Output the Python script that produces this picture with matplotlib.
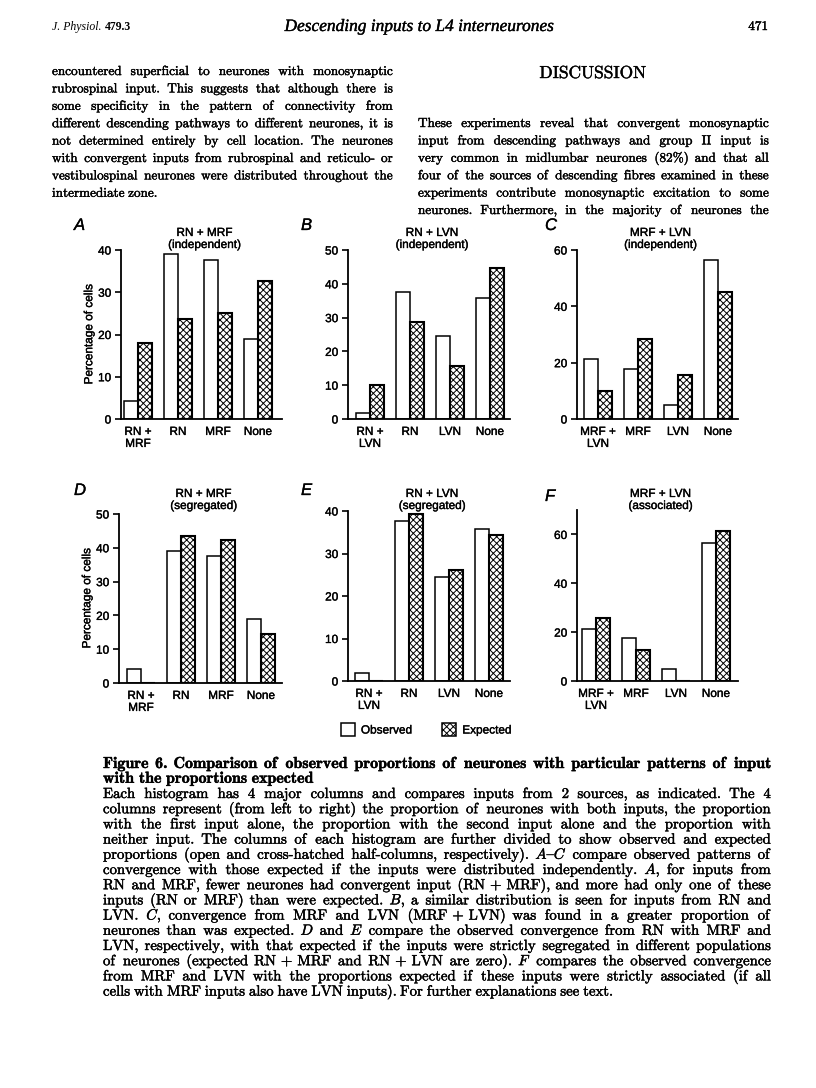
import matplotlib
matplotlib.use('Agg')
import matplotlib.pyplot as plt
import matplotlib.patheffects as pe
from matplotlib.patches import Patch
from matplotlib.textpath import TextPath
from matplotlib.font_manager import FontProperties

# ---- data (percentage of cells) ----
cats_rn_mrf = ['RN +\nMRF', 'RN', 'MRF', 'None']
cats_rn_lvn = ['RN +\nLVN', 'RN', 'LVN', 'None']
cats_mrf_lvn = ['MRF +\nLVN', 'MRF', 'LVN', 'None']

obs_rn_mrf = [4.2, 39.0, 37.7, 19.0]
obs_rn_lvn = [1.8, 37.6, 24.5, 35.7]
obs_mrf_lvn = [21.2, 17.6, 4.8, 56.4]

exp_A = [18.1, 23.6, 25.2, 32.7]   # independent
exp_B = [10.1, 28.8, 15.7, 44.6]   # independent
exp_C = [9.8, 28.3, 15.7, 45.2]    # independent
exp_D = [0.0, 43.6, 42.3, 14.4]    # segregated
exp_E = [0.0, 39.2, 26.2, 34.4]    # segregated
exp_F = [25.9, 12.6, 0.0, 61.4]    # associated

W, H = 816, 1088
plt.rcParams['mathtext.fontset'] = 'cm'
plt.rcParams['hatch.linewidth'] = 0.7
SERIF = ['cmr10', 'DejaVu Serif']
BOLD = ['cmb10', 'DejaVu Serif']
SANS = ['Liberation Sans', 'DejaVu Sans']
INK = [pe.withStroke(linewidth=0.3, foreground='black')]     # scanned print looks heavier
INK_S = [pe.withStroke(linewidth=0.25, foreground='black')]

fig = plt.figure(figsize=(W / 100, H / 100), dpi=100)
renderer = fig.canvas.get_renderer()


def fx(x):
    return x / W


def fy(y):
    return 1 - y / H


def word_widths(words, size, family):
    # glyph-outline widths in pixels (text is drawn as paths because of the stroke effect)
    fp = FontProperties(family=family, size=size)
    return [TextPath((0, 0), w.replace('~', ' '), prop=fp).get_extents().width * 100 / 72
            for w in words]


def fit_size(lines, width, size, family, space=0.3):
    nat = 0
    for ln in lines:
        ws = word_widths(ln.split(), size, family)
        nat = max(nat, sum(ws) + (len(ws) - 1) * space * size * 100 / 72)
    return size * width / nat


def paragraph(lines, x0, x1, y0, dy, size, family, last_full=False):
    for i, ln in enumerate(lines):
        words = ln.split()
        ws = word_widths(words, size, family)
        justify = (i < len(lines) - 1) or last_full
        gap = (x1 - x0 - sum(ws)) / (len(ws) - 1) if justify and len(ws) > 1 else 0.33 * size * 100 / 72
        x = x0
        for w, wd in zip(words, ws):
            fig.text(fx(x), fy(y0 + i * dy), w.replace('~', ' '), fontsize=size,
                     family=family, va='baseline', path_effects=INK)
            x += wd + gap


# ---- running head ----
t = fig.text(fx(52), fy(30), 'J. Physiol.', fontsize=8.5, family='Liberation Serif',
             style='italic', va='baseline')
jw = t.get_window_extent(renderer).width
fig.text(fx(52 + jw + 3), fy(30), '479.3', fontsize=8.5, family='Liberation Serif',
         weight='bold', va='baseline')
fig.text(fx(420), fy(31), 'Descending inputs to L4 interneurones', fontsize=12.5,
         family='Liberation Serif', style='italic', va='baseline', ha='center', path_effects=INK_S)
fig.text(fx(768), fy(30), '471', fontsize=9.5, family=SERIF, va='baseline', ha='right', path_effects=INK)

# ---- body text ----
left_col = [
    'encountered superficial to neurones with monosynaptic',
    'rubrospinal input. This suggests that although there is',
    'some specificity in the pattern of connectivity from',
    'different descending pathways to different neurones, it is',
    'not determined entirely by cell location. The neurones',
    'with convergent inputs from rubrospinal and reticulo- or',
    'vestibulospinal neurones were distributed throughout the',
    'intermediate zone.',
]
right_col = [
    'These experiments reveal that convergent monosynaptic',
    'input from descending pathways and group II input is',
    'very common in midlumbar neurones (82%) and that all',
    'four of the sources of descending fibres examined in these',
    'experiments contribute monosynaptic excitation to some',
    'neurones. Furthermore, in the majority of neurones the',
]
paragraph(left_col, 52, 392, 75, 17.4, 9.5, SERIF)
paragraph(right_col, 418, 768, 127, 17.4, 9.5, SERIF, last_full=True)
fig.text(fx(593), fy(78), 'DISCUSSION', fontsize=12.5, family=SERIF, ha='center', va='baseline',
         path_effects=INK)

# ---- histograms ----
panels = [
    # letter, title, cats, obs, exp, ylim top, ticks, axes box (x0, y0, x1, y1), first group centre
    ('A', 'RN + MRF\n(independent)', cats_rn_mrf, obs_rn_mrf, exp_A, 40, range(0, 41, 10), (121, 250, 282, 419), 138),
    ('B', 'RN + LVN\n(independent)', cats_rn_lvn, obs_rn_lvn, exp_B, 50, range(0, 51, 10), (348, 250, 510, 419), 370),
    ('C', 'MRF + LVN\n(independent)', cats_mrf_lvn, obs_mrf_lvn, exp_C, 60, range(0, 61, 20), (577, 250, 738, 419), 598),
    ('D', 'RN + MRF\n(segregated)', cats_rn_mrf, obs_rn_mrf, exp_D, 50, range(0, 51, 10), (119, 514, 282, 683), 141),
    ('E', 'RN + LVN\n(segregated)', cats_rn_lvn, obs_rn_lvn, exp_E, 40, range(0, 41, 10), (348, 511, 510, 681), 369),
    ('F', 'MRF + LVN\n(associated)', cats_mrf_lvn, obs_mrf_lvn, exp_F, 70, range(0, 61, 20), (577, 510, 738, 681), 596),
]
letter_pos = {'A': (74, 230), 'B': (301, 230), 'C': (545, 230),
              'D': (74, 495), 'E': (301, 495), 'F': (545, 501)}
title_y = {'A': 251, 'B': 251, 'C': 251, 'D': 512, 'E': 512, 'F': 512}

bw = 0.35
for letter, title, cats, obs, exp, top, ticks, box, c0 in panels:
    x0, y0, x1, y1 = box
    ax = fig.add_axes([fx(x0), fy(y1), (x1 - x0) / W, (y1 - y0) / H])
    xs = range(len(cats))
    ax.bar([x - bw / 2 for x in xs], obs, width=bw, color='white', edgecolor='black', linewidth=1.1)
    ax.bar([x + bw / 2 for x in xs], exp, width=bw, color='white', edgecolor='black',
           linewidth=1.5, hatch='xxxxx')
    ax.set_ylim(0, top)
    ax.set_xlim((x0 - c0) / 40, (x1 - c0) / 40)
    ax.set_yticks(list(ticks))
    ax.set_xticks(list(xs))
    ax.set_xticklabels(cats, fontsize=8.5, family=SANS, linespacing=1.0)
    for lab in ax.get_yticklabels() + ax.get_xticklabels():
        lab.set_family(SANS)
        lab.set_path_effects(INK_S)
    ax.tick_params(axis='y', direction='out', length=4, width=1.2, labelsize=8.5, pad=3)
    ax.tick_params(axis='x', length=0, pad=5)
    for s in ('top', 'right'):
        ax.spines[s].set_visible(False)
    for s in ('left', 'bottom'):
        ax.spines[s].set_linewidth(1.3)
    if letter in 'AD':
        ax.set_ylabel('Percentage of cells', fontsize=8.5, family=SANS, labelpad=2,
                      path_effects=INK_S)
    fig.text(fx((x0 + x1) / 2 + 3), fy(title_y[letter]), title, fontsize=8.5, family=SANS,
             ha='center', va='bottom', linespacing=1.0, path_effects=INK_S)
    lx, ly = letter_pos[letter]
    fig.text(fx(lx), fy(ly), letter, fontsize=12, family=SANS, style='italic', va='baseline',
             path_effects=INK_S)

leg = fig.legend(handles=[Patch(facecolor='white', edgecolor='black', linewidth=1.1),
                          Patch(facecolor='white', edgecolor='black', linewidth=1.1, hatch='xxxxx')],
                 labels=['Observed', 'Expected'], loc='center', bbox_to_anchor=(fx(426), fy(730)),
                 ncol=2, frameon=False, handlelength=1.2, handleheight=1.2, handletextpad=0.5,
                 columnspacing=2.6, prop={'family': SANS, 'size': 8.5})
for t in leg.get_texts():
    t.set_path_effects(INK_S)

# ---- caption ----
cap_title = [
    'Figure 6. Comparison of observed proportions of neurones with particular patterns of input',
    'with the proportions expected',
]
cap_body = [
    'Each histogram has 4 major columns and compares inputs from 2 sources, as indicated. The 4',
    'columns represent (from left to right) the proportion of neurones with both inputs, the proportion',
    'with the first input alone, the proportion with the second input alone and the proportion with',
    'neither input. The columns of each histogram are further divided to show observed and expected',
    'proportions (open and cross-hatched half-columns, respectively). $A${$C$ compare observed patterns of',
    'convergence with those expected if the inputs were distributed independently. $A$, for inputs from',
    'RN and MRF, fewer neurones had convergent input (RN~+~MRF), and more had only one of these',
    'inputs (RN or MRF) than were expected. $B$, a similar distribution is seen for inputs from RN and',
    'LVN. $C$, convergence from MRF and LVN (MRF~+~LVN) was found in a greater proportion of',
    'neurones than was expected. $D$ and $E$ compare the observed convergence from RN with MRF and',
    'LVN, respectively, with that expected if the inputs were strictly segregated in different populations',
    'of neurones (expected RN~+~MRF and RN~+~LVN are zero). $F$ compares the observed convergence',
    'from MRF and LVN with the proportions expected if these inputs were strictly associated (if all',
    'cells with MRF inputs also have LVN inputs). For further explanations see text.',
]
cap_size = 0.94 * fit_size(cap_body[:-1], 667, 9.0, SERIF, space=0.27)
title_size = 0.95 * fit_size(cap_title[:1], 667, 9.0, BOLD, space=0.3)
paragraph(cap_title, 103, 770, 768, 14.8, title_size, BOLD)
paragraph(cap_body, 103, 770, 798, 15.2, cap_size, SERIF)

fig.savefig('out.png', dpi=100)
